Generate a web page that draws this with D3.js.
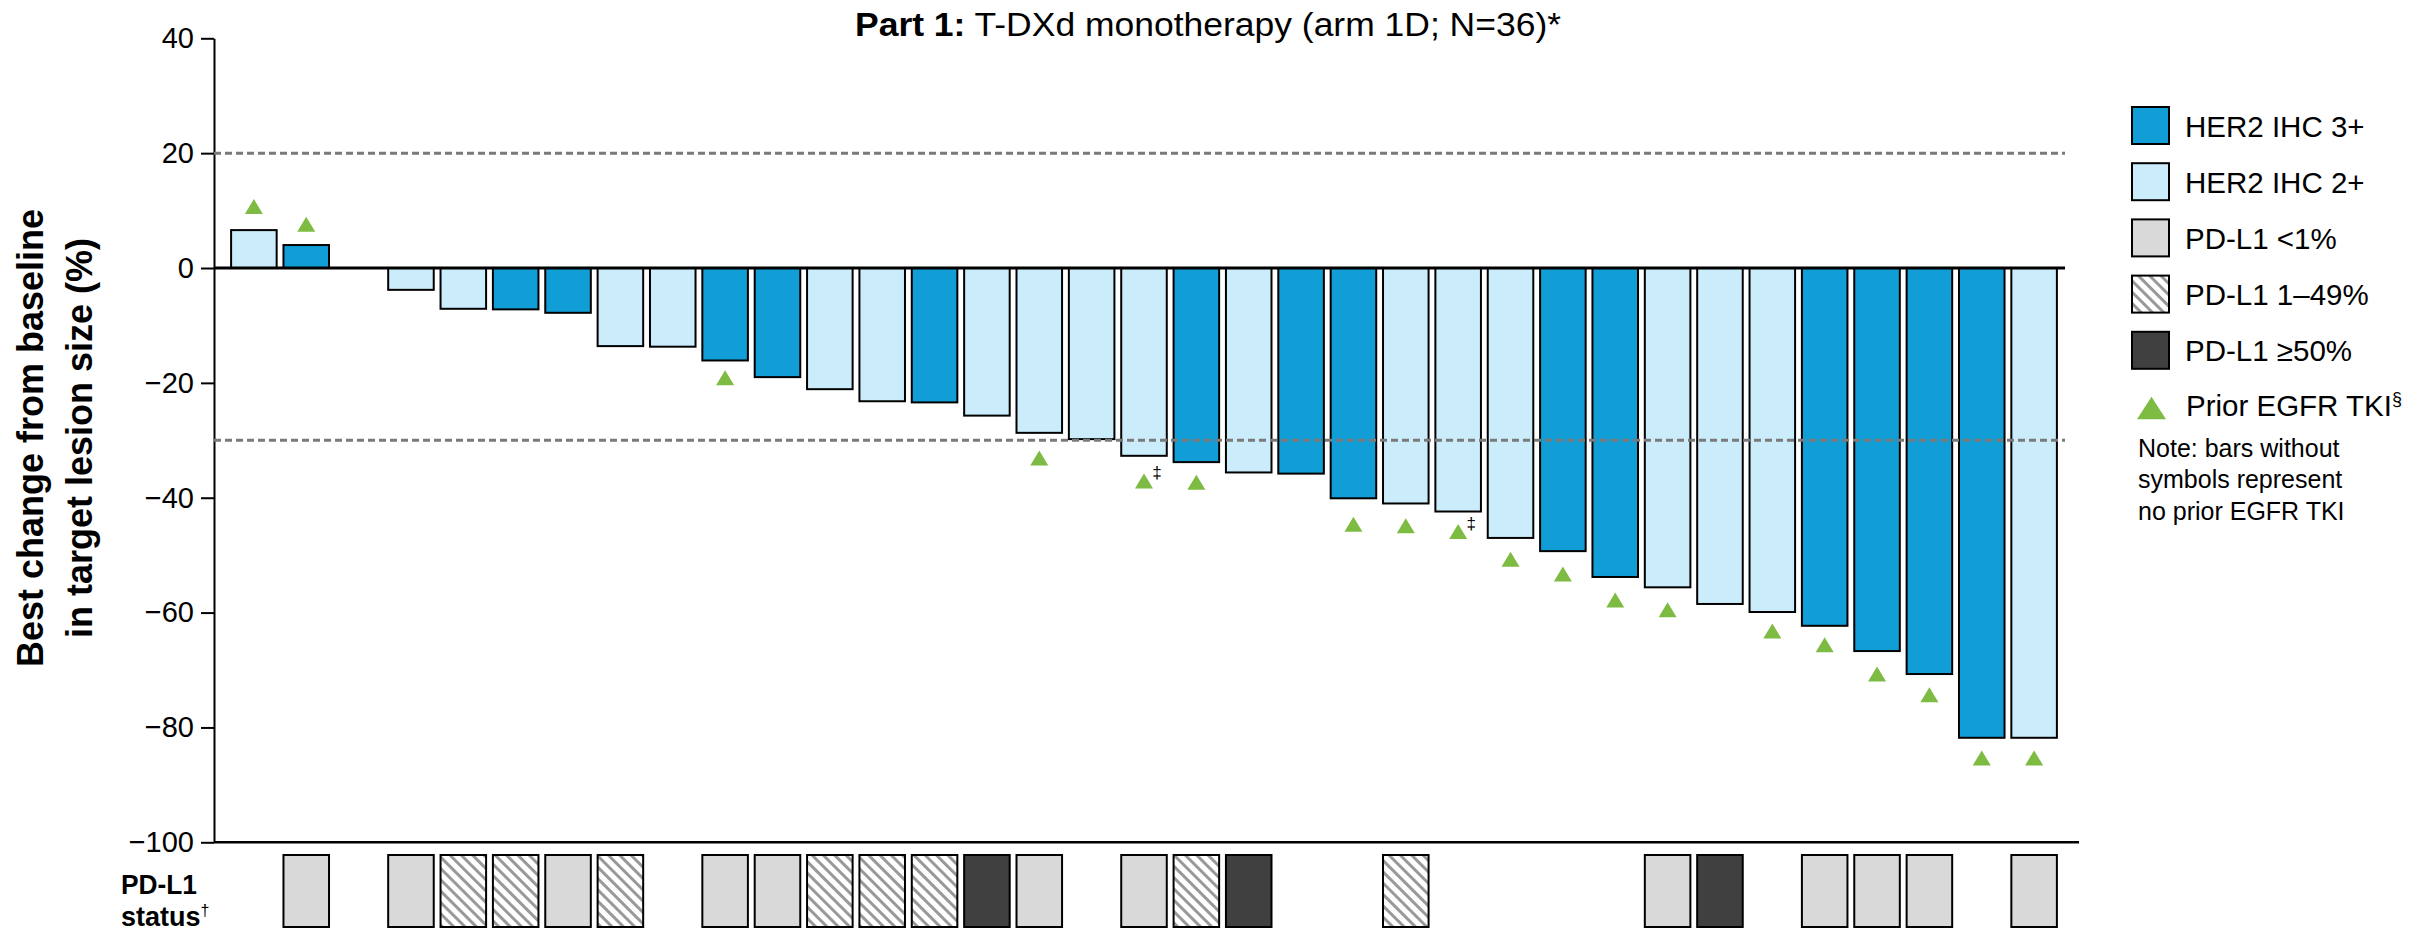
<!DOCTYPE html>
<html>
<head>
<meta charset="utf-8">
<script src="https://cdn.jsdelivr.net/npm/d3@7"></script>
<style>
  body { margin: 0; background: #fff; }
  svg { display: block; }
</style>
</head>
<body>
<div id="chart"></div>
<script>
// one slot per patient, left to right (slot 3 has no bar)
const patients = ["1", "2", "3", "4", "5", "6", "7", "8", "9", "10", "11", "12",
  "13", "14", "15", "16", "17", "18", "19", "20", "21", "22", "23", "24",
  "25", "26", "27", "28", "29", "30", "31", "32", "33", "34", "35"];

const bestChange = [6.6, 4.0, null, -3.8, -7.1, -7.2, -7.8, -13.6, -13.7, -16.1, -19.0, -21.1,
  -23.2, -23.4, -25.7, -28.7, -29.8, -32.7, -33.8, -35.6, -35.8, -40.1, -41.0, -42.4,
  -47.0, -49.3, -53.8, -55.6, -58.5, -59.9, -62.3, -66.7, -70.7, -81.8, -81.8];

const her2Status = ["2+", "3+", null, "2+", "2+", "3+", "3+", "2+", "2+", "3+", "3+", "2+",
  "2+", "3+", "2+", "2+", "2+", "2+", "3+", "2+", "3+", "3+", "2+", "2+",
  "2+", "3+", "3+", "2+", "2+", "2+", "3+", "3+", "3+", "3+", "2+"];

const pdl1Status = [null, "<1%", null, "<1%", "1–49%", "1–49%", "<1%", "1–49%", null, "<1%", "<1%", "1–49%",
  "1–49%", "1–49%", "≥50%", "<1%", null, "<1%", "1–49%", "≥50%", null, null, "1–49%", null,
  null, null, null, "<1%", "≥50%", null, "<1%", "<1%", "<1%", null, "<1%"];

// prior EGFR TKI symbol, value where the triangle sits
const priorTki = [10.7, 7.6, null, null, null, null, null, null, null, -19.1, null, null,
  null, null, null, -33.1, null, -37.1, -37.3, null, null, -44.6, -44.9, -45.9,
  -50.7, -53.3, -57.8, -59.5, null, -63.2, -65.6, -70.7, -74.3, -85.3, -85.3];

const doubleDagger = ["18", "24"];

const yTicks = [40, 20, 0, -20, -40, -60, -80, -100];
const refLines = [20, -30];

const legendLabels = ["HER2 IHC 3+", "HER2 IHC 2+", "PD-L1 <1%", "PD-L1 1–49%", "PD-L1 ≥50%"];
const legendKeys = ["3+", "2+", "<1%", "1–49%", "≥50%"];
const noteLines = ["Note: bars without", "symbols represent", "no prior EGFR TKI"];

const font = "'Liberation Sans', Arial, Helvetica, sans-serif";

const data = patients.map((id, i) => ({
  id,
  value: bestChange[i],
  her2: her2Status[i],
  pdl1: pdl1Status[i],
  tki: priorTki[i],
  dagger: doubleDagger.includes(id)
}));

const width = 2430;
const height = 931;
const axisX = 214;
const plotRight = 2065;

const x = d3.scaleBand()
    .domain(patients)
    .range([227.7, 2060.3])
    .paddingInner(0.13)
    .paddingOuter(0.065);

const y = d3.scaleLinear()
    .domain([-100, 40])
    .range([842.3, 38.3]);

const her2Color = d3.scaleOrdinal()
    .domain(["3+", "2+"])
    .range(["#119ed6", "#cbecfa"]);

const pdl1Fill = d3.scaleOrdinal()
    .domain(["<1%", "1–49%", "≥50%"])
    .range(["#d9d9d9", "url(#hatch)", "#404040"]);

const svg = d3.create("svg")
    .attr("width", width)
    .attr("height", height)
    .attr("viewBox", [0, 0, width, height])
    .attr("font-family", font);

const defs = svg.append("defs");
const pattern = defs.append("pattern")
    .attr("id", "hatch")
    .attr("patternUnits", "userSpaceOnUse")
    .attr("width", 8)
    .attr("height", 8)
    .attr("patternTransform", "rotate(-45)");
pattern.append("rect").attr("width", 8).attr("height", 8).attr("fill", "#fff");
pattern.append("rect").attr("width", 3).attr("height", 8).attr("fill", "#999");

// title
svg.append("text")
    .attr("x", 1208)
    .attr("y", 36)
    .attr("text-anchor", "middle")
    .attr("font-size", 33)
    .attr("textLength", 706)
    .attr("lengthAdjust", "spacingAndGlyphs")
    .style("white-space", "pre")
    .call(t => t.append("tspan").attr("font-weight", "bold").text("Part 1:"))
    .call(t => t.append("tspan").text(" T-DXd monotherapy (arm 1D; N=36)*"));

// y axis
svg.append("g")
    .attr("transform", `translate(${axisX},0)`)
    .call(d3.axisLeft(y).tickValues(yTicks).tickSize(13).tickPadding(7).tickSizeOuter(0))
    .attr("font-family", font)
    .attr("font-size", 29)
    .call(g => g.select(".domain").attr("stroke", "#000").attr("stroke-width", 2))
    .call(g => g.selectAll(".tick line").attr("stroke", "#000").attr("stroke-width", 2))
    .call(g => g.selectAll(".tick text").attr("fill", "#000"));

svg.append("g")
    .attr("transform", "translate(43,438) rotate(-90)")
    .attr("text-anchor", "middle")
    .attr("font-size", 36)
    .attr("font-weight", "bold")
    .call(g => g.append("text").attr("y", 0).text("Best change from baseline"))
    .call(g => g.append("text").attr("y", 49).text("in target lesion size (%)"));

// bars
const rows = data.filter(d => d.value != null);
svg.append("g")
    .attr("stroke", "#000")
    .attr("stroke-width", 2)
    .selectAll("rect")
    .data(rows)
    .join("rect")
      .attr("x", d => x(d.id))
      .attr("y", d => y(Math.max(0, d.value)))
      .attr("width", x.bandwidth())
      .attr("height", d => Math.abs(y(d.value) - y(0)))
      .attr("fill", d => her2Color(d.her2));

// reference lines
svg.append("g")
    .selectAll("line")
    .data(refLines)
    .join("line")
      .attr("x1", axisX)
      .attr("x2", plotRight)
      .attr("y1", d => y(d))
      .attr("y2", d => y(d))
      .attr("stroke", "#7a7a7a")
      .attr("stroke-width", 3)
      .attr("stroke-dasharray", "7,4");

svg.append("line")
    .attr("x1", axisX).attr("x2", plotRight)
    .attr("y1", y(0)).attr("y2", y(0))
    .attr("stroke", "#000").attr("stroke-width", 3);

svg.append("line")
    .attr("x1", axisX).attr("x2", 2079)
    .attr("y1", y(-100)).attr("y2", y(-100))
    .attr("stroke", "#000").attr("stroke-width", 2.5);

// prior EGFR TKI triangles
const tri = "M0,-7.5L9,7.5L-9,7.5Z";
const tkiRows = data.filter(d => d.tki != null);
svg.append("g")
    .attr("fill", "#7dbb42")
    .selectAll("path")
    .data(tkiRows)
    .join("path")
      .attr("transform", d => `translate(${x(d.id) + x.bandwidth() / 2},${y(d.tki)})`)
      .attr("d", tri);

svg.append("g")
    .attr("font-size", 17)
    .attr("text-anchor", "middle")
    .selectAll("text")
    .data(data.filter(d => d.dagger))
    .join("text")
      .attr("x", d => x(d.id) + x.bandwidth() / 2 + 13)
      .attr("y", d => y(d.tki) - 3)
      .text("‡");

// PD-L1 status row
svg.append("g")
    .attr("stroke", "#000")
    .attr("stroke-width", 2)
    .selectAll("rect")
    .data(data.filter(d => d.pdl1 != null))
    .join("rect")
      .attr("x", d => x(d.id))
      .attr("y", 855)
      .attr("width", x.bandwidth())
      .attr("height", 72)
      .attr("fill", d => pdl1Fill(d.pdl1));

svg.append("g")
    .attr("font-size", 27)
    .attr("font-weight", "bold")
    .call(g => g.append("text").attr("x", 121).attr("y", 894).attr("textLength", 76).attr("lengthAdjust", "spacingAndGlyphs").text("PD-L1"))
    .call(g => g.append("text").attr("x", 121).attr("y", 926).text("status")
        .append("tspan").attr("font-size", 16).attr("font-weight", "normal").attr("dy", -10).text("†"));

// legend
const legend = svg.append("g").attr("transform", "translate(2132,0)");
const legendColor = k => her2Color.domain().includes(k) ? her2Color(k) : pdl1Fill(k);

legend.selectAll("rect")
    .data(legendKeys)
    .join("rect")
      .attr("x", 0)
      .attr("y", (d, i) => 107 + i * 56.2)
      .attr("width", 37)
      .attr("height", 37)
      .attr("fill", d => legendColor(d))
      .attr("stroke", "#000")
      .attr("stroke-width", 2);

legend.selectAll("text.label")
    .data(legendLabels)
    .join("text")
      .attr("class", "label")
      .attr("x", 53)
      .attr("y", (d, i) => 107 + i * 56.2 + 29.5)
      .attr("font-size", 29.5)
      .text(d => d);

legend.append("path")
    .attr("transform", "translate(19.5,408)")
    .attr("d", "M0,-11.3L14.5,11.3L-14.5,11.3Z")
    .attr("fill", "#7dbb42");

legend.append("text")
    .attr("x", 54)
    .attr("y", 416)
    .attr("font-size", 29.5)
    .text("Prior EGFR TKI")
    .append("tspan").attr("font-size", 18).attr("dy", -11).text("§");

legend.selectAll("text.note")
    .data(noteLines)
    .join("text")
      .attr("class", "note")
      .attr("x", 6)
      .attr("y", (d, i) => 457 + i * 31.3)
      .attr("font-size", 25)
      .text(d => d);

d3.select("#chart").node().append(svg.node());
</script>
</body>
</html>
